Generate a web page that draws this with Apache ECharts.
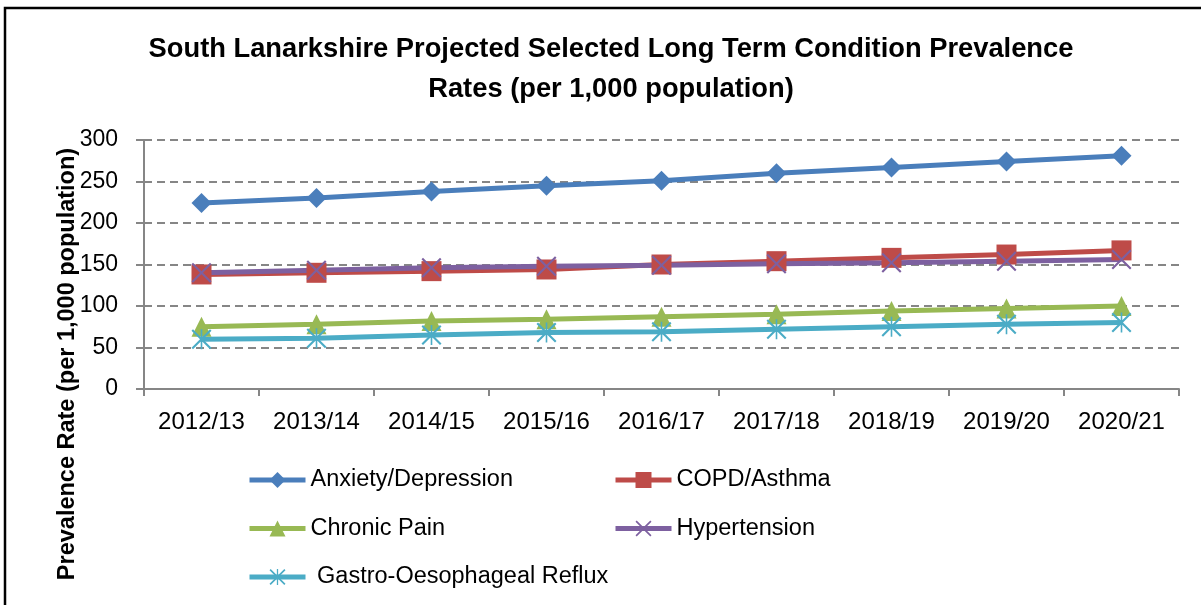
<!DOCTYPE html>
<html>
<head>
<meta charset="utf-8">
<script src="https://cdn.jsdelivr.net/npm/echarts@6/dist/echarts.min.js"></script>
<style>
  html, body { margin: 0; padding: 0; background: #fff; }
  #chart { width: 1201px; height: 605px; }
</style>
</head>
<body>
<div id="chart"></div>
<script>
// 数据
var years = ['2012/13', '2013/14', '2014/15', '2015/16', '2016/17', '2017/18', '2018/19', '2019/20', '2020/21'];
var anxiety = [224, 230, 238, 245, 251, 260, 267, 274, 281];
var copd = [138, 140, 142, 144, 150, 154, 158, 162, 167];
var chronicPain = [75, 78, 82, 84, 87, 90, 94, 97, 100];
var hypertension = [140, 143, 146, 148, 149, 151, 152, 154, 156];
var gastro = [60, 61, 65, 68, 69, 72, 75, 78, 80];
var yTicks = [0, 50, 100, 150, 200, 250, 300];

var FONT = '"Liberation Sans", Arial, sans-serif';

// 自定义标记（叉号和星号）
var xPath = 'path://M0,1.5 L1.5,0 L10,8.5 L18.5,0 L20,1.5 L11.5,10 L20,18.5 L18.5,20 L10,11.5 L1.5,20 L0,18.5 L8.5,10 Z';
var starPath = xPath + ' M9.2,0 L10.8,0 L10.8,20 L9.2,20 Z';

function makeSeries(name, data, color, symbol) {
    return {
        name: name,
        type: 'line',
        data: data,
        symbol: symbol,
        symbolSize: 20,
        lineStyle: { color: color, width: 5 },
        itemStyle: { color: color, borderWidth: 0 },
        emphasis: { disabled: true },
        animation: false
    };
}

var myChart = echarts.init(document.getElementById('chart'));

var legendText = { fontFamily: FONT, fontSize: 23.5, color: '#000', lineHeight: 26 };

function makeLegend(left, names) {
    return {
        orient: 'vertical',
        left: left,
        top: 467,
        padding: 0,
        itemWidth: 56,
        itemHeight: 20,
        itemGap: 22.5,
        lineStyle: { width: 5 },
        textStyle: legendText,
        data: names
    };
}

var option = {
    backgroundColor: '#fff',
    animation: false,
    title: {
        text: 'South Lanarkshire Projected Selected Long Term Condition Prevalence\nRates (per 1,000 population)',
        left: 606,
        top: 24,
        textAlign: 'center',
        textStyle: { fontFamily: FONT, fontSize: 27.3, fontWeight: 'bold', color: '#000', lineHeight: 40 }
    },
    grid: { left: 144, right: 22, top: 140, bottom: 216 },
    legend: [
        makeLegend(247, ['Anxiety/Depression', 'Chronic Pain', ' Gastro-Oesophageal Reflux']),
        makeLegend(613, ['COPD/Asthma', 'Hypertension'])
    ],
    xAxis: {
        type: 'category',
        data: years,
        boundaryGap: true,
        axisLine: { lineStyle: { color: '#868686', width: 2 } },
        axisTick: { show: true, length: 7, lineStyle: { color: '#868686', width: 2 } },
        axisLabel: { fontFamily: FONT, fontSize: 24, color: '#000', margin: 21 },
        splitLine: { show: false }
    },
    yAxis: {
        type: 'value',
        min: yTicks[0],
        max: yTicks[yTicks.length - 1],
        interval: 50,
        axisLine: { show: true, lineStyle: { color: '#868686', width: 2 } },
        axisTick: { show: true, length: 8, lineStyle: { color: '#868686', width: 2 } },
        axisLabel: { fontFamily: FONT, fontSize: 23, color: '#000', margin: 26 },
        splitLine: { show: true, lineStyle: { color: '#868686', width: 2, type: [8, 5] } }
    },
    graphic: [
        {
            type: 'text',
            x: 68,
            y: 364,
            rotation: Math.PI / 2,
            style: {
                text: 'Prevalence Rate (per 1,000 population)',
                fontFamily: FONT,
                fontSize: 23.5,
                fontWeight: 'bold',
                fill: '#000',
                align: 'center',
                verticalAlign: 'middle'
            }
        },
        {
            type: 'rect',
            shape: { x: 5, y: 8, width: 1220, height: 620 },
            style: { fill: 'none', stroke: '#000', lineWidth: 2.5 },
            silent: true
        }
    ],
    series: [
        makeSeries('Anxiety/Depression', anxiety, '#4A7EBB', 'diamond'),
        makeSeries('COPD/Asthma', copd, '#BE4B48', 'rect'),
        makeSeries('Chronic Pain', chronicPain, '#98B954', 'triangle'),
        makeSeries('Hypertension', hypertension, '#7D60A0', xPath),
        makeSeries(' Gastro-Oesophageal Reflux', gastro, '#4BACC6', starPath)
    ]
};

myChart.setOption(option);
</script>
</body>
</html>
